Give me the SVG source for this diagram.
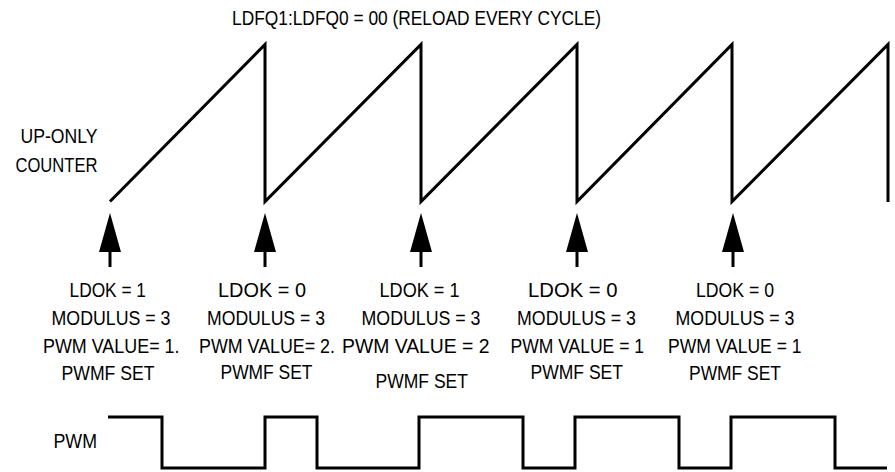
<svg xmlns="http://www.w3.org/2000/svg" width="895" height="472" viewBox="0 0 895 472">
<style>
text{font-family:"Liberation Sans",Arial,sans-serif;fill:#000;}
.lbl{font-size:19.5px;}
.big{font-size:21px;}
.wave{fill:none;stroke:#000;stroke-width:3;stroke-linejoin:miter;stroke-linecap:butt;}
.arr{fill:#000;stroke:none;}
</style>
<defs>
<g id="arrowShape">
<polygon class="arr" points="0,-54 -11,-15 11,-15"/>
<rect class="arr" x="-1.5" y="-16" width="3" height="16"/>
</g>
</defs>
<rect width="895" height="472" fill="#fff"/>

<g id="title">
<text x="232" y="25" style="font-size:20px" textLength="369" lengthAdjust="spacingAndGlyphs">LDFQ1:LDFQ0 = 00 (RELOAD EVERY CYCLE)</text>
</g>

<g id="counter-label">
<text class="big" x="20.5" y="143.3" textLength="77" lengthAdjust="spacingAndGlyphs">UP-ONLY</text>
<text class="big" x="15.5" y="171.7" textLength="82" lengthAdjust="spacingAndGlyphs">COUNTER</text>
</g>

<g id="counter">
<path class="wave" d="M110,201.5 L265,44.5 L265,201.5 L421,44.5 L421,201.5 L577,44.5 L577,201.5 L732,44.5 L732,201.5 L888,44.5 L888,202"/>
</g>

<g id="connectors">
<use href="#arrowShape" x="110" y="267"/>
<use href="#arrowShape" x="265" y="267"/>
<use href="#arrowShape" x="421" y="267"/>
<use href="#arrowShape" x="577" y="267"/>
<use href="#arrowShape" x="733" y="267"/>
</g>

<g id="label1" class="lbl">
<text x="69.5" y="296.7" textLength="76.5" lengthAdjust="spacingAndGlyphs">LDOK = 1</text>
<text x="51.5" y="325" textLength="119" lengthAdjust="spacingAndGlyphs">MODULUS = 3</text>
<text x="43" y="352.7" textLength="136.5" lengthAdjust="spacingAndGlyphs">PWM VALUE= 1.</text>
<text x="61.5" y="380" textLength="93" lengthAdjust="spacingAndGlyphs">PWMF SET</text>
</g>

<g id="label2" class="lbl">
<text x="218" y="296.7" textLength="88" lengthAdjust="spacingAndGlyphs">LDOK = 0</text>
<text x="207" y="325" textLength="118" lengthAdjust="spacingAndGlyphs">MODULUS = 3</text>
<text x="199" y="352.7" textLength="136" lengthAdjust="spacingAndGlyphs">PWM VALUE= 2.</text>
<text x="220.5" y="379" textLength="92" lengthAdjust="spacingAndGlyphs">PWMF SET</text>
</g>

<g id="label3" class="lbl">
<text x="379.5" y="296.7" textLength="80" lengthAdjust="spacingAndGlyphs">LDOK = 1</text>
<text x="361.5" y="325" textLength="119" lengthAdjust="spacingAndGlyphs">MODULUS = 3</text>
<text x="342" y="352.7" textLength="147.5" lengthAdjust="spacingAndGlyphs">PWM VALUE = 2</text>
<text x="375.5" y="388.3" textLength="92.5" lengthAdjust="spacingAndGlyphs">PWMF SET</text>
</g>

<g id="label4" class="lbl">
<text x="528" y="296.7" textLength="89.5" lengthAdjust="spacingAndGlyphs">LDOK = 0</text>
<text x="517" y="325" textLength="119" lengthAdjust="spacingAndGlyphs">MODULUS = 3</text>
<text x="510.5" y="352.7" textLength="133.5" lengthAdjust="spacingAndGlyphs">PWM VALUE = 1</text>
<text x="530.5" y="378.5" textLength="92.5" lengthAdjust="spacingAndGlyphs">PWMF SET</text>
</g>

<g id="label5" class="lbl">
<text x="696" y="296.7" textLength="78" lengthAdjust="spacingAndGlyphs">LDOK = 0</text>
<text x="675.5" y="325" textLength="119" lengthAdjust="spacingAndGlyphs">MODULUS = 3</text>
<text x="668" y="352.7" textLength="133.5" lengthAdjust="spacingAndGlyphs">PWM VALUE = 1</text>
<text x="689" y="380" textLength="92" lengthAdjust="spacingAndGlyphs">PWMF SET</text>
</g>

<g id="pwm-label">
<text class="big" x="53.5" y="448.3" textLength="43.5" lengthAdjust="spacingAndGlyphs">PWM</text>
</g>

<g id="pwm">
<path class="wave" d="M108,417 H162 V468 H265 V417 H317 V468 H419 V417 H523 V468 H575 V417 H679 V468 H731 V417 H835 V468 H887"/>
</g>
</svg>
